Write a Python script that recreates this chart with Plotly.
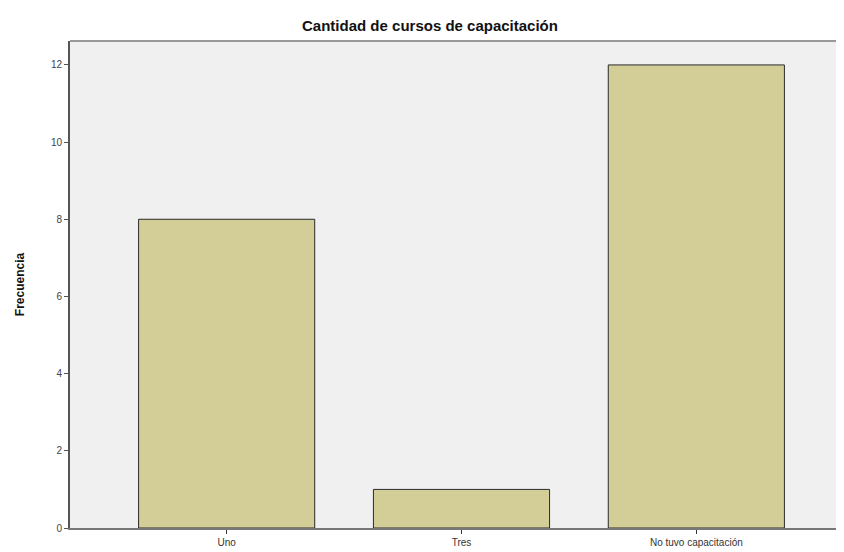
import plotly.graph_objects as go

categorias = ["Uno", "Tres", "No tuvo capacitación"]
frecuencias = [8, 1, 12]
y_ticks = [0, 2, 4, 6, 8, 10, 12]

fig = go.Figure(go.Bar(
    x=categorias,
    y=frecuencias,
    width=0.75,
    marker=dict(color="#d3ce97", line=dict(color="#2a2a2a", width=1)),
))

fig.update_layout(
    width=844,
    height=552,
    margin=dict(l=62, r=3, t=33, b=32),
    paper_bgcolor="white",
    plot_bgcolor="#f0f0f0",
    font=dict(family="Liberation Sans, Arial, sans-serif", color="#333333"),
    title=dict(
        text="<b>Cantidad de cursos de capacitación</b>",
        x=0.5, xanchor="center", y=0.968, yanchor="middle",
        font=dict(size=15, color="#111111"),
    ),
    showlegend=False,
)

fig.update_xaxes(
    range=[-0.667, 2.65],
    showgrid=False,
    showline=True, linecolor="#777777", linewidth=2,
    ticks="outside", ticklen=4, tickcolor="#333333",
    tickfont=dict(size=10, color="#333333"),
)
fig.update_yaxes(
    range=[0, 12.62],
    tickvals=y_ticks,
    showgrid=False,
    zeroline=False,
    showline=True, linecolor="#555555", linewidth=2,
    ticks="outside", ticklen=4, tickcolor="#555555",
    tickfont=dict(size=10, color="#444444"),
    title=dict(text="<b>Frecuencia</b>", font=dict(size=12, color="#111111"), standoff=24),
)

# borde superior del área de trazado
fig.add_shape(type="line", xref="paper", yref="paper", x0=0, x1=1, y0=1, y1=1,
              line=dict(color="#999999", width=2))

fig.write_html("out.html")
